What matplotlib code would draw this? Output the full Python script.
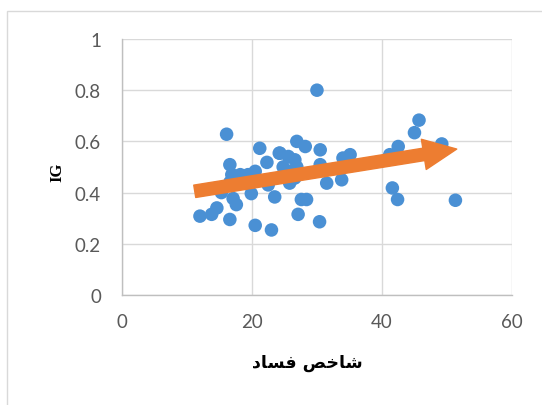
import matplotlib
matplotlib.use("Agg")
import matplotlib.pyplot as plt
from matplotlib.patches import FancyArrowPatch, Rectangle

# Data
corruption_index = [12.0, 13.8, 14.6, 16.1, 16.6, 16.6, 16.9, 17.1, 17.6, 18.2,
                    19.4, 19.9, 20.5, 20.5, 21.2, 22.3, 22.5, 23.0, 23.5, 24.2,
                    24.3, 25.6, 25.8, 25.8, 26.6, 26.6, 26.9, 26.9, 27.1, 27.6,
                    28.2, 28.4, 30.0, 30.4, 30.5, 30.5, 31.5, 33.8, 34.0, 35.1,
                    41.2, 41.6, 42.4, 42.5, 45.0, 45.7, 49.2, 51.3, 15.3, 18.8,
                    16.6, 27.0, 24.8]
ig_values = [0.308, 0.315, 0.34, 0.628, 0.509, 0.295, 0.47, 0.377, 0.353, 0.47,
             0.47, 0.396, 0.483, 0.272, 0.573, 0.518, 0.43, 0.254, 0.383, 0.554,
             0.554, 0.541, 0.483, 0.437, 0.528, 0.457, 0.60, 0.50, 0.315, 0.373,
             0.58, 0.373, 0.80, 0.286, 0.567, 0.509, 0.437, 0.45, 0.535, 0.548,
             0.548, 0.418, 0.373, 0.58, 0.634, 0.683, 0.59, 0.37, 0.40, 0.45,
             0.44, 0.47, 0.50]
trend_start = (11.2, 0.405)
trend_end = (51.5, 0.57)

x_ticks = [0, 20, 40, 60]
y_ticks = [0, 0.2, 0.4, 0.6, 0.8, 1]
y_tick_labels = ["0", "0.2", "0.4", "0.6", "0.8", "1"]

# Arabic-script label, shaped with presentation forms and in visual order
x_label = "\uFEA9\uFE8E\uFEB4\uFED3 \uFEBA\uFEA7\uFE8E\uFEB7"  # شاخص فساد
y_label = "IG"

fig = plt.figure(figsize=(5.42, 4.06), dpi=100)
fig.patch.set_facecolor("white")
ax = fig.add_axes([0.225, 0.271, 0.7196, 0.6305])

# outer chart border
fig.patches.append(Rectangle((7 / 542, -0.1), 1.2, 1 - 12 / 406 + 0.1,
                             transform=fig.transFigure, fill=False,
                             edgecolor="#D9D9D9", linewidth=1.0, zorder=0))

ax.set_xlim(0, 60)
ax.set_ylim(0, 1)
ax.set_xticks(x_ticks)
ax.set_yticks(y_ticks)
ax.set_yticklabels(y_tick_labels)
ax.grid(True, color="#D9D9D9", linewidth=1.0)
ax.set_axisbelow(True)
for s in ["top", "right"]:
    ax.spines[s].set_visible(False)
for s in ["left", "bottom"]:
    ax.spines[s].set_color("#BFBFBF")
    ax.spines[s].set_linewidth(1.0)
ax.tick_params(length=0, labelsize=13.5, labelcolor="#595959")
ax.tick_params(axis="y", pad=15)
ax.tick_params(axis="x", pad=13)
for lab in ax.get_xticklabels() + ax.get_yticklabels():
    lab.set_fontfamily("Lato")

ax.scatter(corruption_index, ig_values, s=95, color="#4A90D4", edgecolors="none",
           zorder=3)

arrow = FancyArrowPatch(trend_start, trend_end,
                        arrowstyle="simple,head_width=22,head_length=24,tail_width=9",
                        mutation_scale=1, color="#ED7D31", shrinkA=0, shrinkB=0,
                        zorder=4)
ax.add_patch(arrow)

fig.text(307 / 542, 1 - 363 / 406, x_label, ha="center", va="center",
         fontsize=12.5, fontweight="bold", family="DejaVu Sans")
fig.text(57 / 542, 1 - 172 / 406, y_label, ha="center", va="center",
         rotation=90, fontsize=12, fontweight="bold", family="Liberation Serif")

fig.savefig("out.png", dpi=100)
